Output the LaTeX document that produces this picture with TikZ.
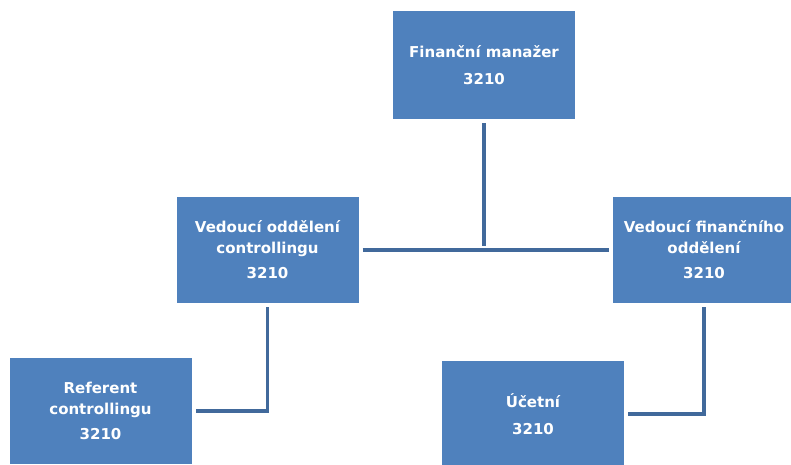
\documentclass[tikz,border=0pt]{standalone}
\usepackage{fontspec}
\setmainfont{DejaVu Sans}
\begin{document}
\begin{tikzpicture}[x=1pt,y=-1pt,
  unit/.style={rectangle, fill=boxblue, text=white, inner sep=0pt,
    minimum width=182pt, minimum height=106pt, align=center,
    font=\fontsize{15}{20.5}\selectfont\bfseries},
  link/.style={draw=lineblue, line width=3.6pt, shorten <=4pt, shorten >=4pt}]
  \definecolor{boxblue}{HTML}{4F81BD}
  \definecolor{lineblue}{HTML}{41699B}
  \useasboundingbox (0,0) rectangle (791,464);
  \clip (0,0) rectangle (791,464);

  % organisation units
  \node[unit, minimum height=108pt] (top) at (484,65)
    {Finanční manažer\\[6pt]3210};
  \node[unit] (lm) at (267.5,250)
    {Vedoucí oddělení\\controllingu\\[5pt]3210};
  \node[unit] (rm) at (704,250)
    {Vedoucí finančního\\oddělení\\[5pt]3210};
  \node[unit] (bl) at (100.5,411)
    {Referent\\controllingu\\[5pt]3210};
  \node[unit] (br) at (533,414)
    {Účetní\\[6pt]3210};

  % reporting lines
  \draw[link] (top.south) -- (top.south |- lm.east);
  \draw[link] (lm.east) -- (rm.west);
  \draw[link] (lm.south) |- (bl.east);
  \draw[link] (rm.south) |- (br.east);
\end{tikzpicture}
\end{document}
